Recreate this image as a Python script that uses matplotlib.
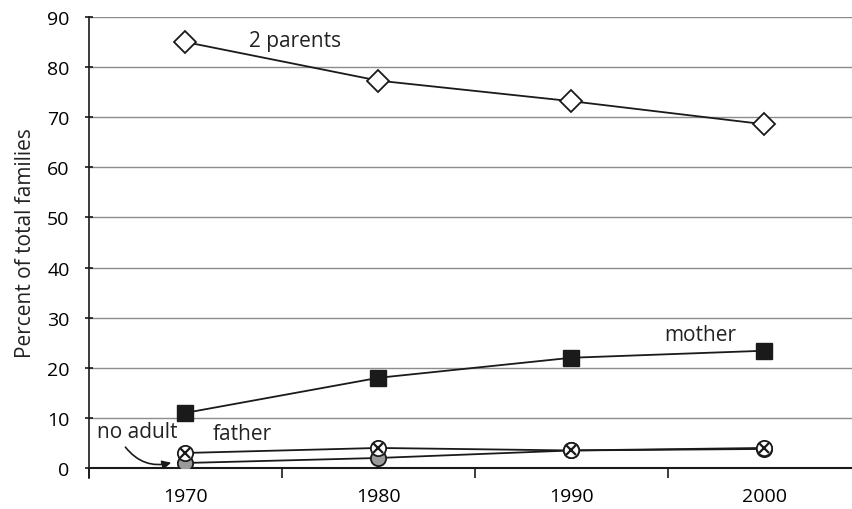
import matplotlib.pyplot as plt
import numpy as np

plt.rcParams['font.family'] = ['Open Sans', 'DejaVu Sans']

years = ['1970', '1980', '1990', '2000']
two_parents = [85, 77.3, 73.2, 68.6]
mother = [11, 18, 22, 23.4]
father = [3, 4, 3.5, 4]
no_adult = [1, 2, 3.5, 3.8]

x = np.arange(len(years))

fig = plt.figure(figsize=(8.53, 5.10), dpi=100)
ax = fig.add_axes([89/853, 1 - 469/510, 1 - 89/853, (469 - 18)/510])

for v in range(10, 100, 10):
    ax.axhline(v, color='#8c8c8c', lw=1, zorder=0)

ax.plot(x, two_parents, color='#1a1a1a', lw=1.3, marker='D', ms=11,
        mfc='white', mec='#1a1a1a', mew=1.3, zorder=3)
ax.plot(x, mother, color='#1a1a1a', lw=1.3, marker='s', ms=11,
        mfc='#1a1a1a', mec='#1a1a1a', zorder=3)
ax.plot(x, no_adult, color='#1a1a1a', lw=1.3, marker='o', ms=11,
        mfc='#9a9a9a', mec='#1a1a1a', mew=1.3, zorder=3)
ax.plot(x, father, color='#1a1a1a', lw=1.3, marker='o', ms=11,
        mfc='white', mec='#1a1a1a', mew=1.3, zorder=4)
ax.plot(x, father, ls='none', marker='x', ms=6.5, mec='#1a1a1a', mew=1.6, zorder=5)

lab = dict(fontsize=15, va='center', color='#222222')
ax.text(0.33, 85.3, '2 parents', ha='left', **lab)
ax.text(2.67, 26.6, 'mother', ha='center', **lab)
ax.text(0.14, 6.9, 'father', ha='left', **lab)
ax.text(-0.46, 7.2, 'no adult', ha='left', **lab)
ax.annotate('', xy=(-0.06, 1.2), xytext=(-0.32, 4.6),
            arrowprops=dict(arrowstyle='-|>', color='#1a1a1a', lw=1.2,
                            connectionstyle='arc3,rad=0.35', mutation_scale=13))

ax.set_xlim(-0.5, 3.46)
ax.set_ylim(0, 90)
ax.set_xticks(x)
ax.set_xticklabels(years, fontsize=14)
ax.set_xticks(np.arange(-0.5, 3.5, 1), minor=True)
ax.tick_params(axis='x', which='major', length=0, pad=14)
ax.tick_params(axis='x', which='minor', length=7, width=1.2, color='#1a1a1a')
ax.set_yticks(range(0, 100, 10))
ax.tick_params(axis='y', which='major', length=6, width=1.2, direction='inout',
               labelsize=14, color='#1a1a1a', pad=11)
ax.set_ylabel('Percent of total families', fontsize=15, color='#222222', labelpad=8)

for s in ['top', 'right']:
    ax.spines[s].set_visible(False)
ax.spines['left'].set_color('#1a1a1a')
ax.spines['left'].set_linewidth(1.2)
ax.spines['left'].set_bounds(-2, 90)
ax.spines['bottom'].set_color('#1a1a1a')
ax.spines['bottom'].set_linewidth(1.5)

fig.savefig('out.png', dpi=100)
